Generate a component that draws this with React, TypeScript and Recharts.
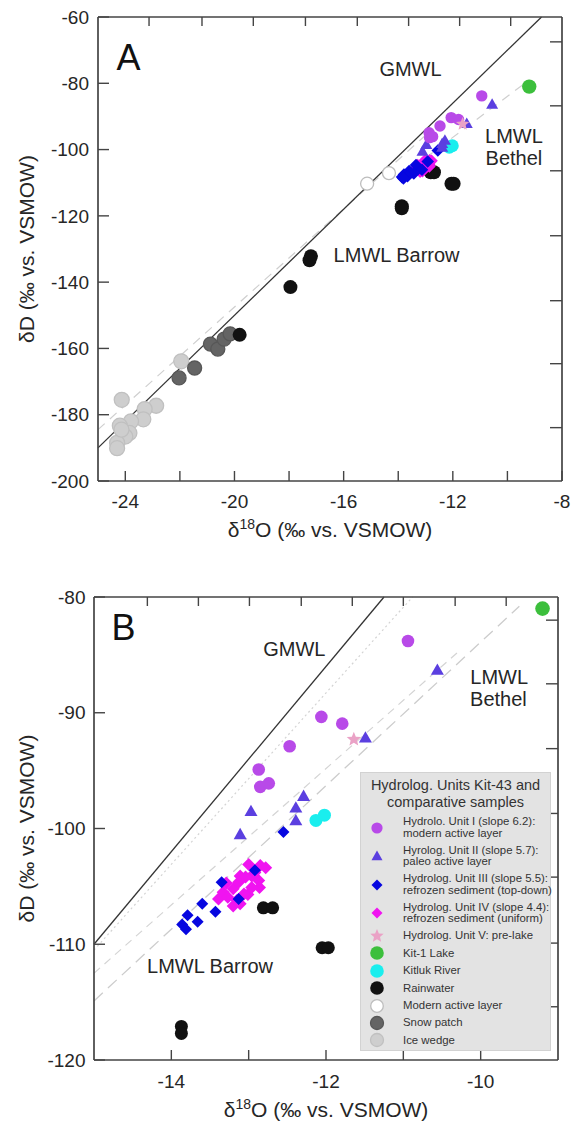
import { ScatterChart, Scatter, XAxis, YAxis, ReferenceLine, ReferenceDot, Legend } from 'recharts';

type Pt = [number, number];
type Kind = 'circle' | 'triangle' | 'diamond' | 'star';

// δ18O, δD pairs
const unitI: Pt[] = [
  [-10.94, -83.8], [-12.06, -90.36], [-11.79, -90.94], [-12.47, -92.9],
  [-12.87, -94.9], [-12.85, -96.4], [-12.74, -96.1],
];
const unitII: Pt[] = [
  [-10.56, -86.3], [-11.49, -92.15], [-12.29, -97.2], [-12.39, -98.2],
  [-12.97, -98.5], [-12.39, -99.3], [-13.11, -100.5],
];
const unitIII: Pt[] = [
  [-12.55, -100.3], [-12.92, -103.6], [-13.35, -104.65], [-13.13, -106.1],
  [-13.6, -106.5], [-13.43, -107.2], [-13.79, -107.5], [-13.66, -108.05],
  [-13.86, -108.3], [-13.81, -108.7],
];
const unitIV: Pt[] = [
  [-13.0, -103.1], [-12.85, -103.2], [-12.78, -103.4], [-13.11, -104.1],
  [-12.96, -104.1], [-12.87, -104.5], [-13.29, -104.7], [-13.2, -105.2],
  [-13.33, -105.5], [-13.39, -106.1], [-13.27, -105.95], [-13.15, -106.2],
  [-13.01, -105.7], [-12.86, -105.1], [-13.2, -106.7], [-13.11, -106.5],
  [-13.04, -104.2], [-12.92, -103.8], [-13.13, -104.65], [-12.96, -105.1],
  [-13.06, -105.65],
];
const unitV: Pt[] = [[-11.64, -92.3]];
const kit1Lake: Pt[] = [[-9.2, -81.0]];
const kitlukRiver: Pt[] = [[-12.13, -99.3], [-12.02, -98.85]];
const rainwater: Pt[] = [
  [-12.81, -106.85], [-12.69, -106.85], [-12.05, -110.3], [-11.97, -110.3],
  [-13.87, -117.1], [-13.87, -117.7], [-17.2, -132.2], [-17.25, -133.4],
  [-17.95, -141.5], [-19.81, -155.9],
];
const modernActive: Pt[] = [[-15.14, -110.3], [-14.34, -107.1]];
const snowPatch: Pt[] = [
  [-22.03, -168.9], [-21.46, -165.9], [-20.88, -158.7], [-20.61, -160.2],
  [-20.38, -157.2], [-20.16, -155.6],
];
const iceWedge: Pt[] = [
  [-21.95, -163.9], [-24.13, -175.5], [-22.87, -177.3], [-23.29, -178.3],
  [-23.34, -181.4], [-23.79, -182.0], [-24.2, -183.3], [-23.85, -185.5],
  [-24.0, -186.6], [-24.3, -188.5], [-24.3, -190.1], [-24.14, -184.5],
];

// water lines (end points)
const gmwlA: Pt[] = [[-25, -190], [-8.75, -60]];
const barrowA: Pt[] = [[-25, -184.5], [-13, -95.7]];
const bethelA: Pt[] = [[-13, -102.5], [-9.2, -79]];
const gmwlB: Pt[] = [[-15, -110], [-11.25, -80]];
const barrowB: Pt[] = [[-15, -110.5], [-10.88, -80]];
const unitLineB: Pt[] = [[-15, -112.5], [-10.3, -84.8]];
const bethelB: Pt[] = [[-15, -114.9], [-9.5, -80.8]];

// ticks
const xTicksA = [-24, -22, -20, -18, -16, -14, -12, -10, -8];
const yTicksA = [-200, -180, -160, -140, -120, -100, -80, -60];
const topTicksA = [-23.13, -21.19, -19.31, -17.4, -15.5, -13.62, -11.75, -9.88];
const rightTicksA = [-67.5, -86.8, -106.4, -126.0, -145.6, -164.6, -183.9];
const xTicksB = [-14, -13, -12, -11, -10];
const yTicksB = [-120, -110, -100, -90, -80];
const topTicksB = [-14.31, -13.65, -12.99, -12.32, -11.66, -11.0, -10.33, -9.67];
const rightTicksB = [-82.0, -87.5, -93.1, -98.7, -104.2, -109.9, -115.4];

const FONT = '"Liberation Sans", Arial, Helvetica, sans-serif';
const INK = '#262626';
const AXIS = '#444';
const PLOT = 464; // plot box edge, px

type Series = {
  key: string; label: string[]; pts: Pt[]; kind: Kind; fill: string; stroke?: string;
  sizeA: number; sizeB: number; onlyA?: boolean; legendSize: number;
};

const SERIES: Series[] = [
  { key: 'ice', label: ['Ice wedge'], pts: iceWedge, kind: 'circle', fill: '#cecece', stroke: '#c0c0c0', sizeA: 7.5, sizeB: 7.5, legendSize: 6.5 },
  { key: 'snow', label: ['Snow patch'], pts: snowPatch, kind: 'circle', fill: '#646464', stroke: '#575757', sizeA: 7, sizeB: 7, legendSize: 6.5 },
  { key: 'modern', label: ['Modern active layer'], pts: modernActive, kind: 'circle', fill: '#ffffff', stroke: '#bdbdbd', sizeA: 6.5, sizeB: 6.5, onlyA: true, legendSize: 6.3 },
  { key: 'rain', label: ['Rainwater'], pts: rainwater, kind: 'circle', fill: '#111111', sizeA: 7, sizeB: 6.5, legendSize: 6.8 },
  { key: 'river', label: ['Kitluk River'], pts: kitlukRiver, kind: 'circle', fill: '#1aeeee', sizeA: 6.5, sizeB: 6.5, legendSize: 6.8 },
  { key: 'lake', label: ['Kit-1 Lake'], pts: kit1Lake, kind: 'circle', fill: '#3cbf3c', sizeA: 7.2, sizeB: 7.3, legendSize: 6.8 },
  { key: 'u4', label: ['Hydrolog. Unit IV (slope 4.4):', 'refrozen sediment (uniform)'], pts: unitIV, kind: 'diamond', fill: '#f014f0', sizeA: 6.3, sizeB: 6.5, legendSize: 5.5 },
  { key: 'u3', label: ['Hydrolog. Unit III (slope 5.5):', 'refrozen sediment (top-down)'], pts: unitIII, kind: 'diamond', fill: '#0606e0', sizeA: 6.3, sizeB: 6, legendSize: 5.5 },
  { key: 'u2', label: ['Hyrolog. Unit II (slope 5.7):', 'paleo active layer'], pts: unitII, kind: 'triangle', fill: '#5b3fe0', sizeA: 6, sizeB: 6.5, legendSize: 5.5 },
  { key: 'u1', label: ['Hydrolo. Unit I (slope 6.2):', 'modern active layer'], pts: unitI, kind: 'circle', fill: '#b84ae8', sizeA: 5.7, sizeB: 6.3, legendSize: 5.6 },
  { key: 'u5', label: ['Hydrolog. Unit V: pre-lake'], pts: unitV, kind: 'star', fill: '#eaa2c6', sizeA: 7, sizeB: 7.5, legendSize: 7 },
];

const LEGEND_ORDER = ['u1', 'u2', 'u3', 'u4', 'u5', 'lake', 'river', 'rain', 'modern', 'snow', 'ice'];

const toData = (pts: Pt[]) => pts.map(([x, y]) => ({ x, y }));

function starPoints(cx: number, cy: number, R: number) {
  const pts: string[] = [];
  for (let i = 0; i < 10; i++) {
    const r = i % 2 === 0 ? R : R * 0.45;
    const a = (-90 + i * 36) * Math.PI / 180;
    pts.push(`${cx + r * Math.cos(a)},${cy + r * Math.sin(a)}`);
  }
  return pts.join(' ');
}

function Marker({ kind, cx, cy, s, fill, stroke }: { kind: Kind; cx: number; cy: number; s: number; fill: string; stroke?: string }) {
  if (kind === 'triangle') {
    const p = `${cx},${cy - s} ${cx + s},${cy + s * 0.75} ${cx - s},${cy + s * 0.75}`;
    return <polygon points={p} fill={fill} />;
  }
  if (kind === 'diamond') {
    const p = `${cx},${cy - s} ${cx + s},${cy} ${cx},${cy + s} ${cx - s},${cy}`;
    return <polygon points={p} fill={fill} />;
  }
  if (kind === 'star') return <polygon points={starPoints(cx, cy, s)} fill={fill} />;
  return <circle cx={cx} cy={cy} r={s} fill={fill} stroke={stroke || 'none'} strokeWidth={stroke ? 1.3 : 0} />;
}

function XTitle({ viewBox, dy }: any) {
  const { x, y, width } = viewBox;
  return (
    <text x={x + width / 2} y={y + dy} textAnchor="middle" fontSize={21} fill={INK}>
      δ<tspan dy={-8} fontSize={14}>18</tspan><tspan dy={8}>O (‰ vs. VSMOW)</tspan>
    </text>
  );
}

function YTitle({ viewBox, cx }: any) {
  const { y, height } = viewBox;
  const cy = y + height / 2;
  return (
    <text x={cx} y={cy} transform={`rotate(-90 ${cx} ${cy})`} textAnchor="middle" dominantBaseline="central" fontSize={21} fill={INK}>
      δD (‰ vs. VSMOW)
    </text>
  );
}

function LegendBox() {
  const rows = LEGEND_ORDER.map((k) => SERIES.find((s) => s.key === k)!);
  return (
    <div style={{ width: 191, height: 279, boxSizing: 'border-box', background: '#e3e3e3', border: '1px solid #d2d2d2', fontFamily: FONT, color: '#333', paddingTop: 4 }}>
      <div style={{ textAlign: 'center', fontSize: 14.5, lineHeight: '16.7px', marginBottom: 3 }}>
        Hydrolog. Units Kit-43 and<br />comparative samples
      </div>
      {rows.map((s) => (
        <div key={s.key} style={{ display: 'flex', alignItems: 'center', height: s.label.length > 1 ? 28.5 : 17.4 }}>
          <svg width={33} height={16} style={{ flex: 'none' }}>
            <Marker kind={s.kind} cx={16} cy={8} s={s.legendSize} fill={s.fill} stroke={s.stroke} />
          </svg>
          <div style={{ marginLeft: 9, fontSize: 11.4, lineHeight: '11.4px', whiteSpace: 'nowrap' }}>
            {s.label.map((l, i) => <div key={i}>{l}</div>)}
          </div>
        </div>
      ))}
    </div>
  );
}

function seg(p: Pt[], stroke: string, dash?: string, width = 1.2, key?: string) {
  return (
    <ReferenceLine
      key={key}
      xAxisId="b" yAxisId="l"
      segment={[{ x: p[0][0], y: p[0][1] }, { x: p[1][0], y: p[1][1] }]}
      stroke={stroke} strokeWidth={width} strokeDasharray={dash} ifOverflow="visible"
    />
  );
}

function note(x: number, y: number, text: string, size = 20) {
  return (
    <ReferenceDot
      key={text + x}
      xAxisId="b" yAxisId="l" x={x} y={y} r={0} ifOverflow="visible"
      label={{ value: text, position: 'center', fontSize: size, fill: size > 30 ? '#111' : INK }}
    />
  );
}

function Panel({ which }: { which: 'A' | 'B' }) {
  const isA = which === 'A';
  const xDomain = isA ? [-25, -8] : [-15, -9];
  const yDomain = isA ? [-200, -60] : [-120, -80];
  const [x0, x1] = xDomain;
  const [y0, y1] = yDomain;
  const ux = (px: number) => (px * (x1 - x0)) / PLOT; // px -> data units
  const uy = (px: number) => (px * (y1 - y0)) / PLOT;
  const series = SERIES.filter((s) => isA || !s.onlyA);
  const tickStyle = { fill: INK, fontSize: 19 };
  const line = { stroke: AXIS, strokeWidth: 1.7 };

  // inward frame ticks on all four sides
  const frameTicks = [
    ...(isA ? xTicksA : xTicksB).map((v): Pt[] => [[v, y0], [v, y0 + uy(10)]]),
    ...(isA ? topTicksA : topTicksB).map((v): Pt[] => [[v, y1], [v, y1 - uy(9)]]),
    ...(isA ? yTicksA : yTicksB).map((v): Pt[] => [[x0, v], [x0 + ux(11), v]]),
    ...(isA ? rightTicksA : rightTicksB).map((v): Pt[] => [[x1, v], [x1 - ux(12), v]]),
  ];

  return (
    <ScatterChart
      width={571}
      height={isA ? 560 : 564}
      margin={isA ? { top: 16, right: 8, bottom: 39, left: 38 } : { top: 36, right: 12, bottom: 24, left: 34 }}
    >
      <XAxis
        xAxisId="b" dataKey="x" type="number" domain={xDomain} ticks={isA ? xTicksA : xTicksB}
        interval={0} height={40} tickSize={0} tickMargin={isA ? 14 : 15} tickLine={false}
        tickFormatter={(v: number) => (v % (isA ? 4 : 2) === 0 ? String(v) : '')}
        tick={tickStyle} axisLine={line}
        allowDataOverflow label={<XTitle dy={isA ? 56 : 57} />}
      />
      <XAxis
        xAxisId="t" orientation="top" type="number" domain={xDomain}
        height={1} tick={false} tickLine={false} allowDataOverflow axisLine={line}
      />
      <YAxis
        yAxisId="l" dataKey="y" type="number" domain={yDomain} ticks={isA ? yTicksA : yTicksB}
        interval={0} width={60} tickSize={0} tickMargin={isA ? 9 : 8.5} tickLine={false}
        tick={tickStyle} axisLine={line}
        allowDataOverflow label={<YTitle cx={26} />}
      />
      <YAxis
        yAxisId="r" orientation="right" type="number" domain={yDomain}
        width={1} tick={false} tickLine={false} allowDataOverflow axisLine={line}
      />

      {isA
        ? [seg(barrowA, '#cfcfcf', '9 7', 1.2, 'ba'), seg(bethelA, '#cfcfcf', '9 7', 1.2, 'be'), seg(gmwlA, '#333', undefined, 1.3, 'g')]
        : [
            seg(barrowB, '#d4d4d4', '2 3', 1.2, 'ba'),
            seg(unitLineB, '#d4d4d4', '8 6', 1.2, 'u'),
            seg(bethelB, '#cccccc', '12 7', 1.3, 'be'),
            seg(gmwlB, '#333', undefined, 1.3, 'g'),
          ]}

      {frameTicks.map((t, i) => seg(t, AXIS, undefined, 1.4, `t${i}`))}

      {series.map((s) => (
        <Scatter
          key={s.key}
          xAxisId="b"
          yAxisId="l"
          data={toData(s.pts)}
          isAnimationActive={false}
          legendType="none"
          shape={(p: any) => <Marker kind={s.kind} cx={p.cx} cy={p.cy} s={isA ? s.sizeA : s.sizeB} fill={s.fill} stroke={s.stroke} />}
        />
      ))}

      {isA
        ? [
            note(-23.88, -72.1, 'A', 36),
            note(-13.55, -75.6, 'GMWL'),
            note(-9.76, -96.0, 'LMWL'),
            note(-9.76, -102.6, 'Bethel'),
            note(-14.06, -131.9, 'LMWL Barrow'),
          ]
        : [
            note(-14.62, -82.64, 'B', 36),
            note(-12.41, -84.46, 'GMWL'),
            note(-9.76, -86.88, 'LMWL'),
            note(-9.77, -88.79, 'Bethel'),
            note(-13.5, -111.86, 'LMWL Barrow'),
          ]}

      {!isA && (
        <Legend
          layout="vertical" verticalAlign="middle" align="center"
          wrapperStyle={{ left: 360, top: 212, width: 191, height: 279 }}
          content={() => <LegendBox />}
        />
      )}
    </ScatterChart>
  );
}

export default function App() {
  return (
    <div style={{ position: 'absolute', left: 0, top: 0, width: 571, height: 1124, background: '#fff', fontFamily: FONT }}>
      <div style={{ position: 'absolute', left: 0, top: 0 }}>
        <Panel which="A" />
      </div>
      <div style={{ position: 'absolute', left: 0, top: 560 }}>
        <Panel which="B" />
      </div>
    </div>
  );
}
